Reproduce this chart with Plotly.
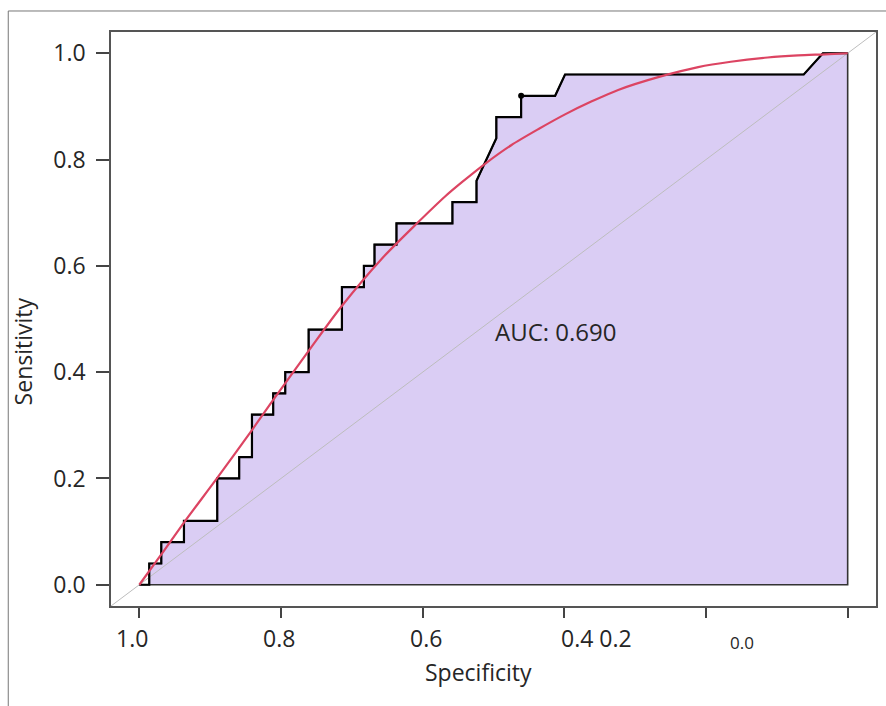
import plotly.graph_objects as go

# ---------------- data ----------------
roc_spec = [1.0, 0.986, 0.986, 0.969, 0.969, 0.937, 0.937, 0.890, 0.890, 0.859, 0.859,
            0.841, 0.841, 0.811, 0.811, 0.794, 0.794, 0.761, 0.761, 0.714, 0.714,
            0.683, 0.683, 0.668, 0.668, 0.637, 0.637, 0.558, 0.558, 0.524, 0.524,
            0.496, 0.496, 0.461, 0.461, 0.413, 0.399, 0.062, 0.035, 0.0]
roc_sens = [0.0, 0.0, 0.04, 0.04, 0.08, 0.08, 0.12, 0.12, 0.20, 0.20, 0.24,
            0.24, 0.32, 0.32, 0.36, 0.36, 0.40, 0.40, 0.48, 0.48, 0.56,
            0.56, 0.60, 0.60, 0.64, 0.64, 0.68, 0.68, 0.72, 0.72, 0.76,
            0.84, 0.88, 0.88, 0.92, 0.92, 0.96, 0.96, 1.0, 1.0]

smooth_spec = [1.0, 0.969, 0.937, 0.890, 0.841, 0.813, 0.761, 0.715, 0.658, 0.608,
               0.568, 0.545, 0.511, 0.475, 0.437, 0.399, 0.362, 0.324, 0.265, 0.211,
               0.165, 0.113, 0.070, 0.032, 0.0]
smooth_sens = [0.0, 0.057, 0.117, 0.201, 0.291, 0.344, 0.440, 0.523, 0.613, 0.680,
               0.731, 0.757, 0.793, 0.827, 0.857, 0.885, 0.909, 0.931, 0.956, 0.974,
               0.984, 0.992, 0.996, 0.998, 1.0]

threshold_point = (0.461, 0.92)
auc_label = "AUC: 0.690"
auc_pos = (0.412, 0.476)

x_range = [1.04, -0.04]
y_range = [-0.04, 1.04]
x_tickvals = [1.0, 0.8, 0.6, 0.4, 0.2, 0.0]
y_tickvals = [0.0, 0.2, 0.4, 0.6, 0.8, 1.0]
y_ticktext = ["0.0", "0.2", "0.4", "0.6", "0.8", "1.0"]
# (value, text, xshift, font size, yshift)
x_ticklabels = [(1.0, "1.0", -7, 23, 0), (0.8, "0.8", -2, 23, 0), (0.6, "0.6", 3, 23, 0),
                (0.4, "0.4 0.2", 32, 23, 0), (0.2, "0.0", 36, 17, -5)]

FONT = "Open Sans"
TXT = "#262626"
fill_col = "#DACDF4"

fig = go.Figure()

# filled area under ROC, closed at specificity 0 and sensitivity 0
poly_x = roc_spec + [roc_spec[-1], roc_spec[0]]
poly_y = roc_sens + [0.0, 0.0]
fig.add_trace(go.Scatter(x=poly_x, y=poly_y, mode="lines", fill="toself",
                         fillcolor=fill_col, line=dict(color="#333333", width=1.6),
                         hoverinfo="skip", showlegend=False))

# chance diagonal across whole plot
fig.add_trace(go.Scatter(x=x_range, y=[1 - v for v in x_range], mode="lines",
                         line=dict(color="#BDBDBD", width=1), hoverinfo="skip",
                         showlegend=False))

# empirical ROC step curve
fig.add_trace(go.Scatter(x=roc_spec, y=roc_sens, mode="lines",
                         line=dict(color="#000000", width=2.2), showlegend=False))

# threshold point
fig.add_trace(go.Scatter(x=[threshold_point[0]], y=[threshold_point[1]], mode="markers",
                         marker=dict(color="#000000", size=6), showlegend=False))

# smoothed ROC
fig.add_trace(go.Scatter(x=smooth_spec, y=smooth_sens, mode="lines",
                         line=dict(color="#DC4462", width=2.2, shape="spline", smoothing=0.8),
                         showlegend=False))

annotations = [
    dict(x=auc_pos[0], y=auc_pos[1], xref="x", yref="y", text=auc_label, showarrow=False,
         font=dict(family=FONT, size=24, color=TXT), xanchor="center", yanchor="middle"),
    dict(x=-0.1147, y=0.444, xref="paper", yref="paper", text="Sensitivity", showarrow=False,
         textangle=-90, font=dict(family=FONT, size=23, color=TXT),
         xanchor="center", yanchor="middle"),
    dict(x=0.481, y=-0.115, xref="paper", yref="paper", text="Specificity", showarrow=False,
         font=dict(family=FONT, size=23, color=TXT), xanchor="center", yanchor="middle"),
]
for v, t, xs, fs, ys in x_ticklabels:
    annotations.append(dict(x=v, y=-0.0557, xref="x", yref="paper", text=t, showarrow=False,
                            xshift=xs, yshift=ys, font=dict(family=FONT, size=fs, color=TXT),
                            xanchor="center", yanchor="middle"))

shapes = [
    # outer frame (left and top edges)
    dict(type="line", xref="paper", yref="paper", x0=-0.1343, x1=-0.1343, y0=1.0366, y1=-0.2,
         line=dict(color="#777777", width=1)),
    dict(type="line", xref="paper", yref="paper", x0=-0.1343, x1=1.02, y0=1.0366, y1=1.0366,
         line=dict(color="#777777", width=1)),
]

fig.update_layout(
    width=886, height=706,
    margin=dict(l=111, r=8, t=32, b=100),
    paper_bgcolor="white", plot_bgcolor="white",
    font=dict(family=FONT, size=23, color=TXT),
    annotations=annotations, shapes=shapes,
    showlegend=False,
)
fig.update_xaxes(range=x_range, tickvals=x_tickvals, showticklabels=False,
                 ticks="outside", ticklen=10, tickwidth=1.5, tickcolor="#444444",
                 showline=True, linecolor="#555555", linewidth=1.5, mirror=True,
                 showgrid=False, zeroline=False)
fig.update_yaxes(range=y_range, tickvals=y_tickvals, ticktext=y_ticktext,
                 ticks="outside", ticklen=13, tickwidth=1.5, tickcolor="#444444",
                 ticklabelstandoff=6,
                 tickfont=dict(family=FONT, size=23, color=TXT),
                 showline=True, linecolor="#555555", linewidth=1.5, mirror=True,
                 showgrid=False, zeroline=False)

fig.write_html("out.html")
